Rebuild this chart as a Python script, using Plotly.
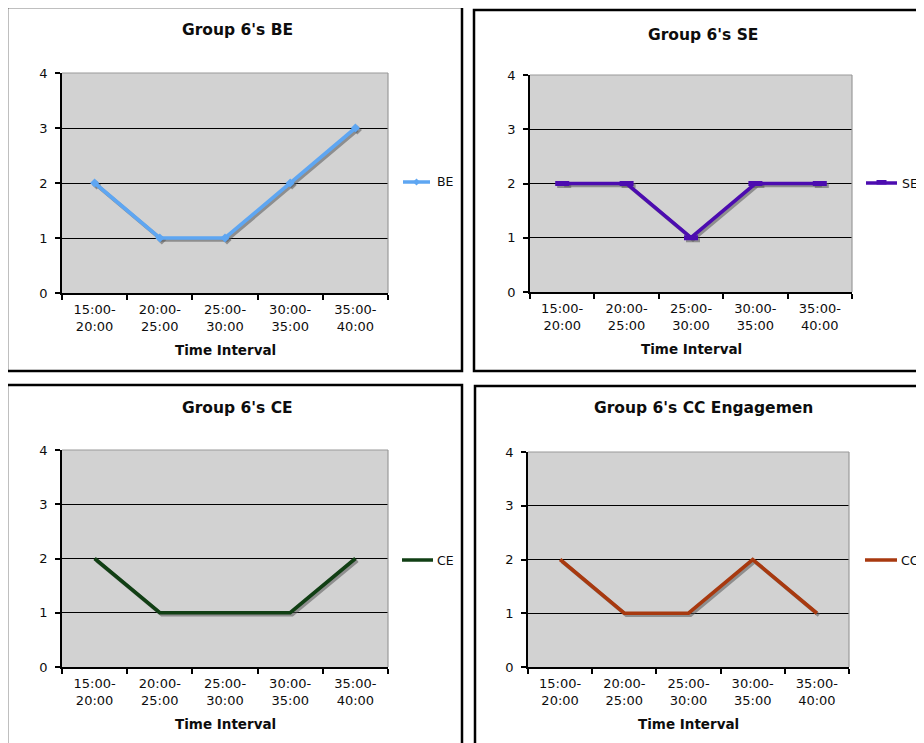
import plotly.graph_objects as go

# ---- data ----
categories = ["15:00-<br>20:00", "20:00-<br>25:00", "25:00-<br>30:00", "30:00-<br>35:00", "35:00-<br>40:00"]
be_values = [2, 1, 1, 2, 3]
se_values = [2, 2, 1, 2, 2]
ce_values = [2, 1, 1, 1, 2]
cc_values = [2, 1, 1, 2, 1]
titles = ["Group 6's BE", "Group 6's SE", "Group 6's CE", "Group 6's CC Engagemen"]
series_names = ["BE", "SE", "CE", "CC"]
y_ticks = [0, 1, 2, 3, 4]

W, H = 924, 743
OFF = 8  # page body margin
FW, FH = W - OFF, H - OFF
FONT = "DejaVu Sans"
TXT = "#0d0d0d"
SHADOW = "rgba(85,85,85,0.55)"
SH = 2  # shadow offset px
TICK_SIZE = 13


def fx(x):
    return (x - OFF) / FW


def fy(y):
    return 1 - (y - OFF) / FH


# plot-area boxes (left, top, right, bottom) in page px
panels = [
    dict(box=(62, 73, 388, 293), border=(7, 7, 462, 371), title=(237, 30),
         leg=(403, 430, 435, 182), values=be_values, color="#5ea6f2", symbol="diamond", msize=7, mline=0),
    dict(box=(530, 75, 852, 292), border=(474, 10, 940, 371), title=(703, 35),
         leg=(866, 897, 900, 183), values=se_values, color="#4c0cb0", symbol="line-ew", msize=10, mline=5),
    dict(box=(62, 450, 388, 667), border=(7, 385, 462, 760), title=(237, 408),
         leg=(402, 433, 435, 560), values=ce_values, color="#113f14", symbol=None, msize=0, mline=0),
    dict(box=(528, 452, 849, 667), border=(475, 386, 940, 760), title=(703, 408),
         leg=(865, 897, 899, 560), values=cc_values, color="#a8390f", symbol=None, msize=0, mline=0),
]

fig = go.Figure()
shapes = []
annotations = []
layout = dict(
    width=FW, height=FH,
    margin=dict(l=0, r=0, t=0, b=0, autoexpand=False),
    paper_bgcolor="white",
    plot_bgcolor="rgba(0,0,0,0)",
    showlegend=False,
    font=dict(family=FONT, size=12, color=TXT),
)

NP = len(panels)
for i, p in enumerate(panels):
    ia = i + 1              # visible axes
    isd = i + 1 + NP        # shadow axes
    il = i + 1 + 2 * NP     # line axes
    na = "" if ia == 1 else str(ia)
    l, t, r, b = p["box"]
    mode = "lines+markers" if p["symbol"] else "lines"

    # visible axes with grid
    layout["xaxis" + na] = dict(
        domain=[fx(l), fx(r)], anchor="y" + na, type="category", categoryarray=categories,
        range=[-0.5, 4.5], showgrid=False, zeroline=False,
        showline=True, linecolor="black", linewidth=1.5,
        ticks="outside", tickson="boundaries", ticklen=5, tickcolor="black", tickwidth=1.5,
        tickfont=dict(family=FONT, size=TICK_SIZE, color=TXT), ticklabelstandoff=4,
        fixedrange=True,
    )
    layout["yaxis" + na] = dict(
        domain=[fy(b), fy(t)], anchor="x" + na,
        range=[0, 4], tickvals=y_ticks, showgrid=True, gridcolor="black", gridwidth=1.2,
        zeroline=False, showline=True, linecolor="black", linewidth=1.5,
        ticks="outside", ticklen=5, tickcolor="black", tickwidth=1.5,
        tickfont=dict(family=FONT, size=TICK_SIZE, color=TXT), ticklabelstandoff=5,
        fixedrange=True,
    )
    # shadow axes (same scales, shifted a couple of pixels)
    layout["xaxis" + str(isd)] = dict(
        domain=[fx(l + SH), fx(r + SH)], anchor="y" + str(isd), type="category",
        categoryarray=categories, range=[-0.5, 4.5], visible=False, fixedrange=True)
    layout["yaxis" + str(isd)] = dict(
        domain=[fy(b + SH), fy(t + SH)], anchor="x" + str(isd),
        range=[0, 4], visible=False, fixedrange=True)
    # line axes (same as visible)
    layout["xaxis" + str(il)] = dict(
        domain=[fx(l), fx(r)], anchor="y" + str(il), type="category",
        categoryarray=categories, range=[-0.5, 4.5], visible=False, fixedrange=True)
    layout["yaxis" + str(il)] = dict(
        domain=[fy(b), fy(t)], anchor="x" + str(il),
        range=[0, 4], visible=False, fixedrange=True)

    # transparent trace so the visible axes get drawn
    fig.add_trace(go.Scatter(
        x=categories, y=p["values"], mode="lines", line=dict(width=0, color="rgba(0,0,0,0)"),
        opacity=0, xaxis="x" + na, yaxis="y" + na, hoverinfo="skip",
    ))
    sh_marker = dict(symbol=p["symbol"], size=p["msize"], color=SHADOW,
                     line=dict(color=SHADOW, width=p["mline"])) if p["symbol"] else None
    fig.add_trace(go.Scatter(
        x=categories, y=p["values"], mode=mode, line=dict(color=SHADOW, width=3.6),
        marker=sh_marker, xaxis="x" + str(isd), yaxis="y" + str(isd), hoverinfo="skip",
    ))
    marker = dict(symbol=p["symbol"], size=p["msize"], color=p["color"],
                  line=dict(color=p["color"], width=p["mline"])) if p["symbol"] else None
    fig.add_trace(go.Scatter(
        x=categories, y=p["values"], name=series_names[i], mode=mode,
        line=dict(color=p["color"], width=3.6),
        marker=marker, xaxis="x" + str(il), yaxis="y" + str(il), hoverinfo="skip",
    ))

    # gray plot-area background
    shapes.append(dict(type="rect", xref="paper", yref="paper",
                       x0=fx(l), x1=fx(r), y0=fy(b), y1=fy(t),
                       fillcolor="#d2d2d2", line=dict(width=0), layer="below"))
    # gray plot-area border on top and right edges
    shapes.append(dict(type="line", xref="paper", yref="paper",
                       x0=fx(l), x1=fx(r), y0=fy(t), y1=fy(t),
                       line=dict(color="#9a9a9a", width=1.2), layer="above"))
    shapes.append(dict(type="line", xref="paper", yref="paper",
                       x0=fx(r), x1=fx(r), y0=fy(t), y1=fy(b),
                       line=dict(color="#9a9a9a", width=1.2), layer="above"))
    # panel border
    bl, bt, br, bb = p["border"]
    shapes.append(dict(type="rect", xref="paper", yref="paper",
                       x0=fx(bl), x1=fx(br), y0=fy(bb), y1=fy(bt),
                       line=dict(color="black", width=2.5), layer="above"))
    # title
    annotations.append(dict(text="<b>" + titles[i] + "</b>", xref="paper", yref="paper",
                            x=fx(p["title"][0]), y=fy(p["title"][1]),
                            xanchor="center", yanchor="middle", showarrow=False,
                            font=dict(family=FONT, size=15.5, color=TXT)))
    # axis title
    annotations.append(dict(text="<b>Time Interval</b>", xref="paper", yref="paper",
                            x=fx((l + r) / 2), y=fy(b + 57),
                            xanchor="center", yanchor="middle", showarrow=False,
                            font=dict(family=FONT, size=13.5, color=TXT)))
    # manual legend
    lx0, lx1, tx, ly = p["leg"]
    shapes.append(dict(type="line", xref="paper", yref="paper",
                       x0=fx(lx0), x1=fx(lx1), y0=fy(ly), y1=fy(ly),
                       line=dict(color=p["color"], width=3.5), layer="above"))
    cx = (lx0 + lx1) / 2
    if p["symbol"] == "diamond":
        d = 3.5
        path = "M {} {} L {} {} L {} {} L {} {} Z".format(
            fx(cx - d), fy(ly), fx(cx), fy(ly - d), fx(cx + d), fy(ly), fx(cx), fy(ly + d))
        shapes.append(dict(type="path", xref="paper", yref="paper", path=path,
                           fillcolor=p["color"], line=dict(width=0), layer="above"))
    elif p["symbol"] == "line-ew":
        shapes.append(dict(type="rect", xref="paper", yref="paper",
                           x0=fx(cx - 5), x1=fx(cx + 5), y0=fy(ly + 1.5), y1=fy(ly - 3),
                           fillcolor=p["color"], line=dict(width=0), layer="above"))
    annotations.append(dict(text=series_names[i], xref="paper", yref="paper",
                            x=fx(tx), y=fy(ly), xanchor="left", yanchor="middle",
                            showarrow=False,
                            font=dict(family=FONT, size=12.5, color=TXT)))

layout["shapes"] = shapes
layout["annotations"] = annotations
fig.update_layout(**layout)

fig.write_html("out.html")
